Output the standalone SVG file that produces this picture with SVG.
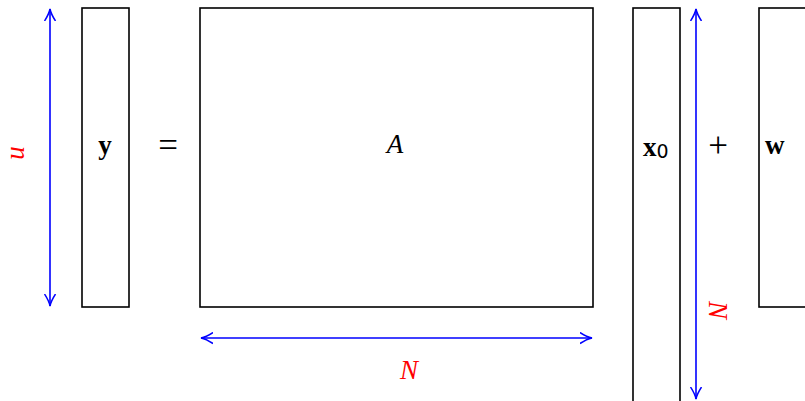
<svg xmlns="http://www.w3.org/2000/svg" width="805" height="401" viewBox="0 0 805 401">
<style>
.box{fill:#fff;stroke:#000;stroke-width:1.6}
.dim{stroke:#00f;stroke-width:1.6;fill:none}
.lbl{font-family:"Liberation Serif","DejaVu Serif",serif;font-size:27px;fill:#000}
.op{font-family:"Liberation Serif","DejaVu Serif",serif;font-size:35px;fill:#000;font-weight:normal}
.red{fill:#f00;font-style:italic}
.it{font-style:italic}
.b{font-weight:bold}
</style>
<defs>
<marker id="ah" viewBox="0 0 13 13" refX="12" refY="6.5" markerWidth="13" markerHeight="13" markerUnits="userSpaceOnUse" orient="auto-start-reverse">
<path d="M0,1 Q7,5.5 12,6.5 Q7,7.5 0,12" fill="none" stroke="#00f" stroke-width="1.5"/>
</marker>
</defs>
<rect width="805" height="401" fill="#fff"/>
<g id="y-vec"><rect class="box" x="82" y="8" width="47" height="299"/><text class="lbl b" x="105" y="154" text-anchor="middle" font-size="28">y</text></g>
<g id="eq"><text class="op" x="168" y="157" text-anchor="middle">=</text></g>
<g id="A-mat"><rect class="box" x="200" y="8" width="393" height="299"/><text class="lbl it" x="395" y="153" text-anchor="middle">A</text></g>
<g id="x0-vec"><rect class="box" x="633" y="8" width="47" height="400"/><text class="lbl b" x="643" y="156">x<tspan font-family="DejaVu Sans,sans-serif" font-weight="normal" font-size="19" dy="2">0</tspan></text></g>
<g id="plus"><text class="op" x="718" y="157" text-anchor="middle">+</text></g>
<g id="w-vec"><rect class="box" x="759" y="8" width="60" height="299"/><text class="lbl b" x="765" y="154">w</text></g>
<g id="connectors">
<line class="dim" x1="50" y1="9" x2="50" y2="306" marker-start="url(#ah)" marker-end="url(#ah)"/>
<line class="dim" x1="201" y1="338" x2="592" y2="338" marker-start="url(#ah)" marker-end="url(#ah)"/>
<line class="dim" x1="696" y1="9" x2="696" y2="399" marker-start="url(#ah)" marker-end="url(#ah)"/>
</g>
<g id="labels">
<text class="lbl red" x="0" y="0" text-anchor="middle" transform="translate(11,153) rotate(90)">n</text>
<text class="lbl red" x="409" y="379" text-anchor="middle">N</text>
<text class="lbl red" x="0" y="0" text-anchor="middle" transform="translate(709,310) rotate(90)">N</text>
</g>
</svg>
